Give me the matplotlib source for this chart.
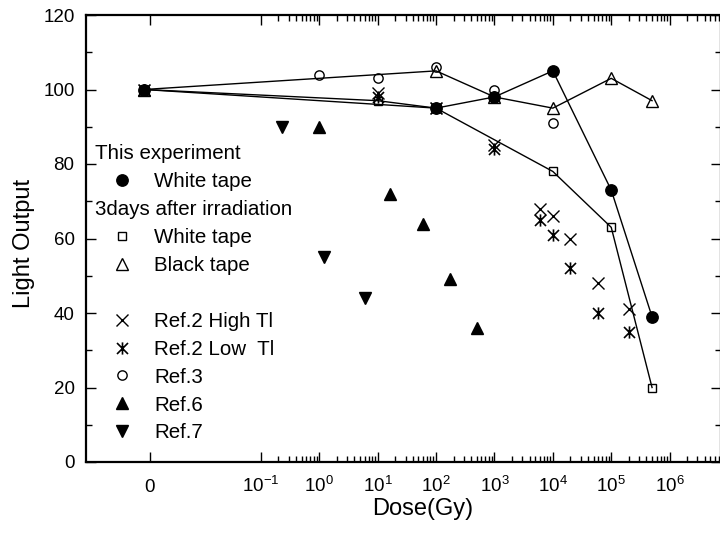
import numpy as np
import matplotlib
matplotlib.use('Agg')
import matplotlib.pyplot as plt
from matplotlib.lines import Line2D
from matplotlib.path import Path
from matplotlib.legend_handler import HandlerBase
from matplotlib.ticker import NullFormatter

plt.rcParams['font.family'] = ['Liberation Sans', 'DejaVu Sans']
plt.rcParams['mathtext.fontset'] = 'custom'
plt.rcParams['mathtext.rm'] = 'Liberation Sans'
plt.rcParams['mathtext.it'] = 'Liberation Sans:italic'
plt.rcParams['mathtext.bf'] = 'Liberation Sans:bold'

# ---------------- data ----------------
white_dose = [0, 1e2, 1e3, 1e4, 1e5, 5e5]
white_lo = [100, 95, 98, 105, 73, 39]

white3_dose = [0, 1e1, 1e2, 1e4, 1e5, 5e5]
white3_lo = [100, 97, 95, 78, 63, 20]

black3_dose = [0, 1e2, 1e3, 1e4, 1e5, 5e5]
black3_lo = [100, 105, 98, 95, 103, 97]

ref2_high_dose = [0, 1e1, 1e2, 1e3, 6e3, 1e4, 2e4, 6e4, 2e5]
ref2_high_lo = [100, 99, 95, 85, 68, 66, 60, 48, 41]

ref2_low_dose = [0, 1e1, 1e2, 1e3, 6e3, 1e4, 2e4, 6e4, 2e5]
ref2_low_lo = [100, 98, 95, 84, 65, 61, 52, 40, 35]

ref3_dose = [1, 1e1, 1e2, 1e3, 1e4]
ref3_lo = [104, 103, 106, 100, 91]

ref6_dose = [1, 16, 60, 170, 500]
ref6_lo = [90, 72, 64, 49, 36]

ref7_dose = [0.23, 1.2, 6]
ref7_lo = [90, 55, 44]

x_decades = list(range(-1, 7))
y_major = list(range(0, 121, 20))
y_minor = list(range(10, 120, 20))

legend_labels = ['This experiment', 'White tape', '3days after irradiation',
                 'White tape', 'Black tape', ' ', 'Ref.2 High Tl',
                 'Ref.2 Low  Tl', 'Ref.3', 'Ref.6', 'Ref.7']

# position used on the log axis for "dose = 0"
ZERO_POS = 1e-3
ZERO_TICK = 10 ** -2.9
XMIN, XMAX = 1e-4, 10 ** 6.88


def xpos(d):
    d = np.asarray(d, dtype=float)
    return np.where(d == 0, ZERO_POS, d)


star_path = Path([(0, -1), (0, 1), (-0.9, -0.9), (0.9, 0.9), (-0.9, 0.9), (0.9, -0.9)],
                 [Path.MOVETO, Path.LINETO, Path.MOVETO, Path.LINETO, Path.MOVETO, Path.LINETO])

fig = plt.figure(figsize=(7.2, 5.34), dpi=100)
ax = fig.add_axes([85.7 / 720, (534 - 462) / 534, (721 - 85.7) / 720, 447 / 534])
ax.set_xscale('log')
ax.set_xlim(XMIN, XMAX)
ax.set_ylim(0, 120)

lw = 1.0
# connecting lines
ax.plot(xpos(white_dose), white_lo, '-', color='k', lw=lw, zorder=2)
ax.plot(xpos(white3_dose), white3_lo, '-', color='k', lw=lw, zorder=2)
ax.plot(xpos(black3_dose), black3_lo, '-', color='k', lw=lw, zorder=2)

# markers
h_white, = ax.plot(xpos(white_dose), white_lo, ls='none', marker='o', ms=8.2,
                   mfc='k', mec='k', zorder=3)
h_white3, = ax.plot(xpos(white3_dose), white3_lo, ls='none', marker='s', ms=6.3,
                    mfc='none', mec='k', mew=1.0, zorder=4)
h_black3, = ax.plot(xpos(black3_dose), black3_lo, ls='none', marker='^', ms=9,
                    mfc='none', mec='k', mew=1.0, zorder=4)
h_r2h, = ax.plot(xpos(ref2_high_dose), ref2_high_lo, ls='none', marker='x', ms=8.4,
                 mec='k', mew=1.0, zorder=4)
h_r2l, = ax.plot(xpos(ref2_low_dose), ref2_low_lo, ls='none', marker=star_path, ms=8.8,
                 mec='k', mew=1.2, zorder=4)
h_r3, = ax.plot(xpos(ref3_dose), ref3_lo, ls='none', marker='o', ms=6.7,
                mfc='none', mec='k', mew=1.0, zorder=4)
h_r6, = ax.plot(xpos(ref6_dose), ref6_lo, ls='none', marker='^', ms=8.6,
                mfc='k', mec='k', zorder=4)
h_r7, = ax.plot(xpos(ref7_dose), ref7_lo, ls='none', marker='v', ms=8.6,
                mfc='k', mec='k', zorder=4)

# ticks
ax.set_xticks([ZERO_TICK] + [10.0 ** k for k in x_decades])
ax.set_xticklabels(['0'] + ['$10^{%d}$' % k for k in x_decades])
minor_x = [m * 10.0 ** k for k in x_decades for m in range(2, 10) if m * 10.0 ** k < XMAX]
ax.set_xticks(minor_x, minor=True)
ax.xaxis.set_minor_formatter(NullFormatter())
ax.set_yticks(y_major)
ax.set_yticks(y_minor, minor=True)
ax.tick_params(which='both', direction='in', top=True, right=True, width=1.0)
ax.tick_params(which='major', length=7)
ax.tick_params(which='minor', length=4)
ax.tick_params(axis='y', labelsize=13.5, pad=8)
ax.tick_params(axis='x', labelsize=13.5, pad=21.5)
for t in ax.xaxis.get_major_ticks():
    t.label1.set_verticalalignment('baseline')
for s in ax.spines.values():
    s.set_linewidth(1.6)

ax.set_xlabel('Dose(Gy)', fontsize=17)
ax.set_ylabel('Light Output', fontsize=17)
ax.xaxis.set_label_coords(0.531, -0.08)
ax.yaxis.set_label_coords(-0.08, 0.489)


class Header:
    pass


class HeaderHandler(HandlerBase):
    def legend_artist(self, legend, orig_handle, fontsize, handlebox):
        handlebox.width = 0
        art = Line2D([], [], linestyle='none', marker='')
        handlebox.add_artist(art)
        return art


handles = [Header(), h_white, Header(), h_white3, h_black3, Header(),
           h_r2h, h_r2l, h_r3, h_r6, h_r7]
ax.legend(handles, legend_labels, handler_map={Header: HeaderHandler()},
          loc='upper left', bbox_to_anchor=(0.0102, 0.7105), frameon=False,
          borderpad=0, borderaxespad=0, handlelength=2.87, handletextpad=0.136,
          labelspacing=0.433, fontsize=14.8, numpoints=1)

fig.savefig('out.png', dpi=100)
